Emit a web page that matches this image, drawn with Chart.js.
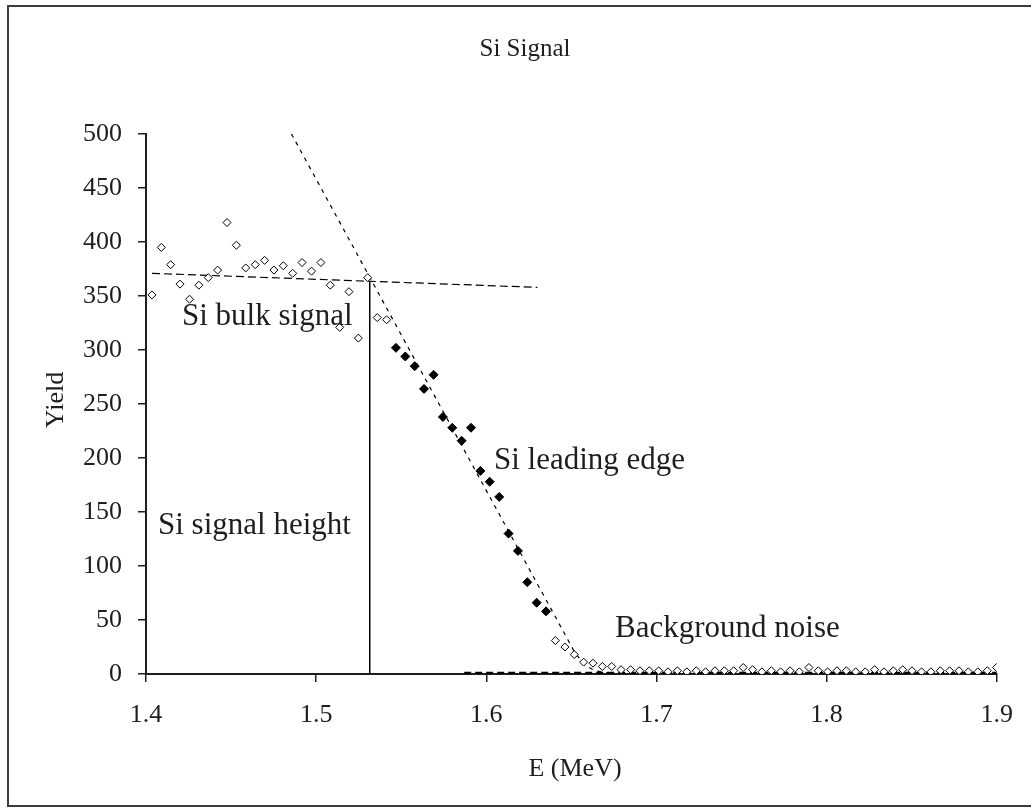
<!DOCTYPE html>
<html>
<head>
<meta charset="utf-8">
<title>Si Signal</title>
<script src="https://cdn.jsdelivr.net/npm/chart.js@4.4.1/dist/chart.umd.min.js"></script>
<style>
  html, body { margin: 0; padding: 0; background: #fff; overflow: hidden; }
  #wrap { width: 1031px; height: 812px; }
</style>
</head>
<body>
<div id="wrap"><canvas id="si-chart" width="1031" height="812"></canvas></div>
<script>
// Measured spectrum: bulk plateau (open), leading edge (filled), background tail (open)
const bulkEnergy = [1.4035, 1.4090, 1.4145, 1.4200, 1.4256, 1.4311, 1.4366, 1.4421, 1.4476, 1.4531,
                    1.4586, 1.4642, 1.4697, 1.4752, 1.4807, 1.4862, 1.4917, 1.4973, 1.5028, 1.5083,
                    1.5138, 1.5193, 1.5248, 1.5303, 1.5359, 1.5414];
const bulkYield = [351, 395, 379, 361, 347, 360, 367, 374, 418, 397,
                   376, 379, 383, 374, 378, 371, 381, 373, 381, 360,
                   321, 354, 311, 367, 330, 328];

const edgeEnergy = [1.5469, 1.5524, 1.5579, 1.5634, 1.5690, 1.5745, 1.5800, 1.5855, 1.5910,
                    1.5965, 1.6020, 1.6076, 1.6131, 1.6186, 1.6241, 1.6296, 1.6351];
const edgeYield = [302, 294, 285, 264, 277, 238, 228, 216, 228,
                   188, 178, 164, 130, 114, 85, 66, 58];

const tailEnergy = [1.6406, 1.6462, 1.6517, 1.6572, 1.6627, 1.6682, 1.6737, 1.6792, 1.6848, 1.6903,
                    1.6958, 1.7013, 1.7068, 1.7123, 1.7179, 1.7234, 1.7289, 1.7344, 1.7399, 1.7454,
                    1.7510, 1.7565, 1.7620, 1.7675, 1.7730, 1.7785, 1.7840, 1.7896, 1.7951, 1.8006,
                    1.8061, 1.8116, 1.8171, 1.8227, 1.8282, 1.8337, 1.8392, 1.8447, 1.8502, 1.8558,
                    1.8613, 1.8668, 1.8723, 1.8778, 1.8833, 1.8889, 1.8944, 1.8999];
const tailYield = [31, 25, 18, 11, 10, 7, 7, 4, 4, 3,
                   3, 3, 2, 3, 2, 3, 2, 3, 3, 3,
                   6, 4, 2, 3, 2, 3, 2, 6, 3, 2,
                   3, 3, 2, 2, 4, 2, 3, 4, 3, 2,
                   2, 3, 3, 3, 2, 2, 3, 6];

// Guide lines drawn on the plot
const edgeFitEnergy = [1.4855, 1.652, 1.658, 1.664, 1.672];
const edgeFitYield = [500, 20, 8, 3, 1];
const bulkFitEnergy = [1.4035, 1.63];
const bulkFitYield = [371, 358];
const noiseFitEnergy = [1.587, 1.9];
const noiseFitYield = [1, 1];
const heightEnergy = [1.5315, 1.5315];
const heightYield = [0, 364];

const xMin = 1.4, xMax = 1.9, xStep = 0.1;
const yMin = 0, yMax = 500, yStep = 50;

const FONT = "'Liberation Serif', 'Times New Roman', serif";
const INK = '#1e1e1e';

function pairs(xs, ys) {
    return xs.map((x, i) => ({ x: x, y: ys[i] }));
}

function lineSet(xs, ys, dash, width) {
    return {
        data: pairs(xs, ys),
        showLine: true,
        borderColor: '#000',
        borderWidth: width,
        borderDash: dash,
        pointRadius: 0,
        fill: false,
        tension: 0
    };
}

// Frame (cut off on the right), title, axis titles and text labels
const decorPlugin = {
    id: 'decor',
    afterDraw(chart) {
        const ctx = chart.ctx;
        ctx.save();
        ctx.strokeStyle = '#3c3c3c';
        ctx.lineWidth = 2;
        ctx.beginPath();
        ctx.moveTo(1040, 6);
        ctx.lineTo(8, 6);
        ctx.lineTo(8, 806);
        ctx.lineTo(1040, 806);
        ctx.stroke();

        ctx.fillStyle = INK;
        ctx.textBaseline = 'alphabetic';
        ctx.textAlign = 'center';
        ctx.font = '25px ' + FONT;
        ctx.fillText('Si Signal', 525, 56);

        ctx.font = '26px ' + FONT;
        ctx.fillText('E (MeV)', 575, 776);

        ctx.save();
        ctx.translate(63, 400);
        ctx.rotate(-Math.PI / 2);
        ctx.fillText('Yield', 0, 0);
        ctx.restore();

        ctx.textAlign = 'left';
        ctx.font = '31px ' + FONT;
        ctx.fillText('Si bulk signal', 182, 325);
        ctx.fillText('Si leading edge', 494, 469);
        ctx.fillText('Si signal height', 158, 534);
        ctx.fillText('Background noise', 615, 637);
        ctx.restore();
    }
};

const ctx = document.getElementById('si-chart').getContext('2d');

new Chart(ctx, {
    type: 'scatter',
    data: {
        datasets: [
            {
                data: pairs(edgeEnergy, edgeYield),
                pointStyle: 'rectRot',
                pointRadius: 4.5,
                backgroundColor: '#000',
                borderColor: '#000',
                borderWidth: 1
            },
            {
                data: pairs(bulkEnergy, bulkYield),
                pointStyle: 'rectRot',
                pointRadius: 4,
                backgroundColor: '#fff',
                borderColor: '#000',
                borderWidth: 1
            },
            {
                data: pairs(tailEnergy, tailYield),
                pointStyle: 'rectRot',
                pointRadius: 4,
                backgroundColor: '#fff',
                borderColor: '#000',
                borderWidth: 1
            },
            lineSet(edgeFitEnergy, edgeFitYield, [4, 5], 1.2),
            lineSet(bulkFitEnergy, bulkFitYield, [8, 4], 1.2),
            lineSet(noiseFitEnergy, noiseFitYield, [7, 4], 2.5),
            lineSet(heightEnergy, heightYield, [], 1.5)
        ]
    },
    options: {
        responsive: false,
        animation: false,
        layout: { padding: { top: 134, right: 27, left: 0, bottom: 0 } },
        plugins: {
            legend: { display: false },
            tooltip: { enabled: false },
            title: { display: false }
        },
        scales: {
            x: {
                type: 'linear',
                min: xMin,
                max: xMax,
                ticks: {
                    stepSize: xStep,
                    padding: 18,
                    color: INK,
                    font: { family: FONT, size: 26 },
                    callback: v => v.toFixed(1)
                },
                grid: { display: true, drawOnChartArea: false, tickLength: 8, color: '#1e1e1e', lineWidth: 1.5 },
                border: { display: true, color: '#1e1e1e', width: 2 },
                afterFit: scale => { scale.height = 138; }
            },
            y: {
                min: yMin,
                max: yMax,
                ticks: {
                    stepSize: yStep,
                    padding: 16,
                    color: INK,
                    font: { family: FONT, size: 26 }
                },
                grid: { display: true, drawOnChartArea: false, tickLength: 8, color: '#1e1e1e', lineWidth: 1.5 },
                border: { display: true, color: '#1e1e1e', width: 2 },
                afterFit: scale => { scale.width = 146; }
            }
        }
    },
    plugins: [decorPlugin]
});
</script>
</body>
</html>
